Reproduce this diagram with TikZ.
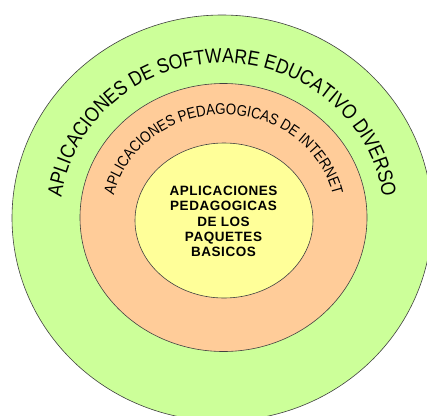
\documentclass[tikz,border=0pt]{standalone}
\usepackage{fontspec}
\setmainfont{Liberation Sans}
\newfontfamily\ringfont[FakeStretch=0.86]{Liberation Sans}
\usetikzlibrary{shapes.geometric, decorations.text}

\definecolor{ringgreen}{HTML}{CCFF99}
\definecolor{ringorange}{HTML}{FFCC99}
\definecolor{coreyellow}{HTML}{FFFF99}

\begin{document}
\begin{tikzpicture}[
  x=1pt, y=1pt,
  ring/.style={draw=black!75, ellipse, line width=0.6pt, inner sep=0pt},
  arctext/.style={decorate, decoration={text along path, text align=center}},
  coretext/.style={align=center, font=\bfseries\fontsize{13.5}{15.3}\selectfont}
]
\useasboundingbox (0,0) rectangle (427,-415);
\clip (0,0) rectangle (427,-415);

% Outer ring
\node[ring, fill=ringgreen, minimum width=420pt, minimum height=406pt] (outring) at (222,-218) {};
% Middle ring
\node[ring, fill=ringorange, minimum width=287pt, minimum height=268pt] (midring) at (223.5,-217.5) {};
% Core
\node[ring, fill=coreyellow, minimum width=178pt, minimum height=155pt] (core) at (224,-220.5) {};

% Text along the rings
\path[arctext, decoration={text={|\ringfont\fontsize{20.5}{20}\selectfont|APLICACIONES DE SOFTWARE EDUCATIVO DIVERSO}}]
  ([xshift=-162pt]outring.center) arc[start angle=180, end angle=0, x radius=162pt, y radius=155pt];
\path[arctext, decoration={text={|\ringfont\fontsize{15.5}{15}\selectfont|APLICACIONES PEDAGOGICAS DE INTERNET}}]
  ([xshift=-112pt]midring.center) arc[start angle=180, end angle=0, x radius=112pt, y radius=103pt];

% Core label
\node[coretext] (corelabel) at (223.5,-221.5) {\addfontfeature{LetterSpace=4}APLICACIONES\\\addfontfeature{LetterSpace=4}PEDAGOGICAS\\\addfontfeature{LetterSpace=4}DE LOS\\\addfontfeature{LetterSpace=4}PAQUETES\\\addfontfeature{LetterSpace=4}BASICOS};

\end{tikzpicture}
\end{document}
